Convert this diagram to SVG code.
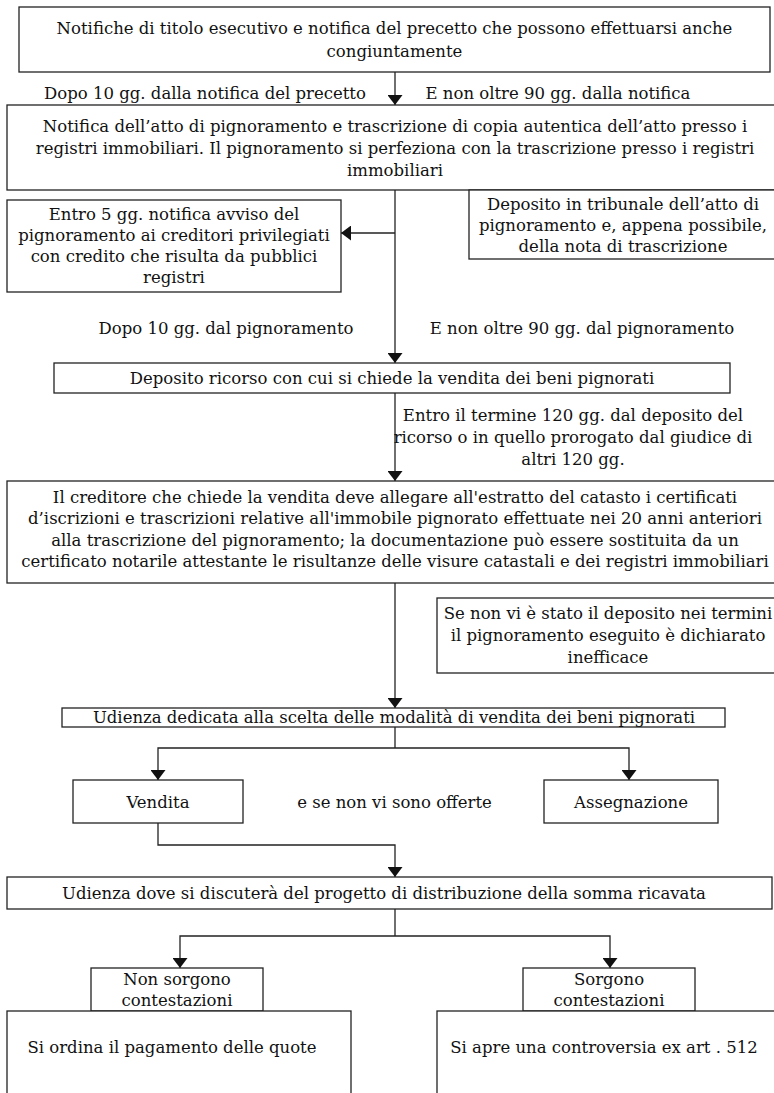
<svg xmlns="http://www.w3.org/2000/svg" width="774" height="1093" viewBox="0 0 774 1093">
<style>
rect{fill:#fff;stroke:#222;stroke-width:1.3}
text{font-family:"DejaVu Serif","Liberation Serif",serif;font-size:16.5px;fill:#111;text-anchor:middle;dominant-baseline:central}
.c{fill:none;stroke:#222;stroke-width:1.3}
</style>
<defs>
<marker id="ah" viewBox="0 0 10 10" refX="10" refY="5" markerWidth="10" markerHeight="15" markerUnits="userSpaceOnUse" orient="auto" preserveAspectRatio="none">
<path d="M0,0 L10,5 L0,10 z" fill="#111"/>
</marker>
</defs>
<rect width="774" height="1093" fill="#fff" style="stroke:none"/>
<g id="connectors">
<path class="c" d="M395,72 V105" marker-end="url(#ah)"/>
<path class="c" d="M395,190 V363" marker-end="url(#ah)"/>
<path class="c" d="M395,233 H341" marker-end="url(#ah)"/>
<path class="c" d="M395,393 V481" marker-end="url(#ah)"/>
<path class="c" d="M395,583 V708" marker-end="url(#ah)"/>
<path class="c" d="M395,727 V748"/>
<path class="c" d="M395,748 H158 V780" marker-end="url(#ah)"/>
<path class="c" d="M395,748 H629 V780" marker-end="url(#ah)"/>
<path class="c" d="M158,823 V845 H395 V877" marker-end="url(#ah)"/>
<path class="c" d="M395,909 V936"/>
<path class="c" d="M395,936 H180 V968" marker-end="url(#ah)"/>
<path class="c" d="M395,936 H610 V968" marker-end="url(#ah)"/>
</g>
<g id="n1"><rect x="19" y="7" width="751" height="65"/>
<text x="394.5" y="28">Notifiche di titolo esecutivo e notifica del precetto che possono effettuarsi anche</text>
<text x="394.5" y="51">congiuntamente</text></g>
<g id="l1"><text x="205" y="93">Dopo 10 gg. dalla notifica del precetto</text>
<text x="558" y="93">E non oltre 90 gg. dalla notifica</text></g>
<g id="n2"><rect x="7" y="105" width="780" height="85"/>
<text x="395" y="126">Notifica dell’atto di pignoramento e trascrizione di copia autentica dell’atto presso i</text>
<text x="395" y="148">registri immobiliari. Il pignoramento si perfeziona con la trascrizione presso i registri</text>
<text x="395" y="170">immobiliari</text></g>
<g id="n3"><rect x="7" y="200" width="334" height="92"/>
<text x="174" y="214.5">Entro 5 gg. notifica avviso del</text>
<text x="174" y="235.5">pignoramento ai creditori privilegiati</text>
<text x="174" y="256.5">con credito che risulta da pubblici</text>
<text x="174" y="277.5">registri</text></g>
<g id="n4"><rect x="469" y="190" width="310" height="69"/>
<text x="623" y="204">Deposito in tribunale dell’atto di</text>
<text x="623" y="225">pignoramento e, appena possibile,</text>
<text x="623" y="246">della nota di trascrizione</text></g>
<g id="l2"><text x="226" y="328">Dopo 10 gg. dal pignoramento</text>
<text x="582" y="328">E non oltre 90 gg. dal pignoramento</text></g>
<g id="n5"><rect x="54" y="363" width="676" height="30"/>
<text x="392" y="378">Deposito ricorso con cui si chiede la vendita dei beni pignorati</text></g>
<g id="l3"><text x="573" y="415">Entro il termine 120 gg. dal deposito del</text>
<text x="573" y="437">ricorso o in quello prorogato dal giudice di</text>
<text x="573" y="459">altri 120 gg.</text></g>
<g id="n6"><rect x="7" y="481" width="776" height="102"/>
<text x="395" y="497">Il creditore che chiede la vendita deve allegare all'estratto del catasto i certificati</text>
<text x="395" y="518.5">d’iscrizioni e trascrizioni relative all'immobile pignorato effettuate nei 20 anni anteriori</text>
<text x="395" y="540">alla trascrizione del pignoramento; la documentazione può essere sostituita da un</text>
<text x="395" y="561.5">certificato notarile attestante le risultanze delle visure catastali e dei registri immobiliari</text></g>
<g id="n7"><rect x="437" y="598" width="342" height="75"/>
<text x="608" y="613">Se non vi è stato il deposito nei termini</text>
<text x="608" y="635">il pignoramento eseguito è dichiarato</text>
<text x="608" y="657">inefficace</text></g>
<g id="n8"><rect x="62" y="708" width="663" height="19"/>
<text x="394" y="717.5">Udienza dedicata alla scelta delle modalità di vendita  dei beni pignorati</text></g>
<g id="n9"><rect x="73" y="780" width="170" height="43"/>
<text x="158" y="802">Vendita</text></g>
<g id="l4"><text x="394.5" y="802">e se non vi sono offerte</text></g>
<g id="n10"><rect x="544" y="780" width="174" height="43"/>
<text x="631" y="802">Assegnazione</text></g>
<g id="n11"><rect x="7" y="877" width="765" height="32"/>
<text x="384" y="893">Udienza dove si discuterà del progetto di distribuzione della somma ricavata</text></g>
<g id="n12"><rect x="91" y="968" width="172" height="43"/>
<text x="177" y="979.5">Non sorgono</text>
<text x="177" y="1000.5">contestazioni</text></g>
<g id="n13"><rect x="523" y="968" width="172" height="43"/>
<text x="609" y="979.5">Sorgono</text>
<text x="609" y="1000.5">contestazioni</text></g>
<g id="n14"><rect x="7" y="1011" width="344" height="100"/>
<text x="172" y="1047">Si ordina il pagamento delle quote</text></g>
<g id="n15"><rect x="437" y="1011" width="342" height="100"/>
<text x="604" y="1047">Si apre una controversia ex art . 512</text></g>
</svg>
